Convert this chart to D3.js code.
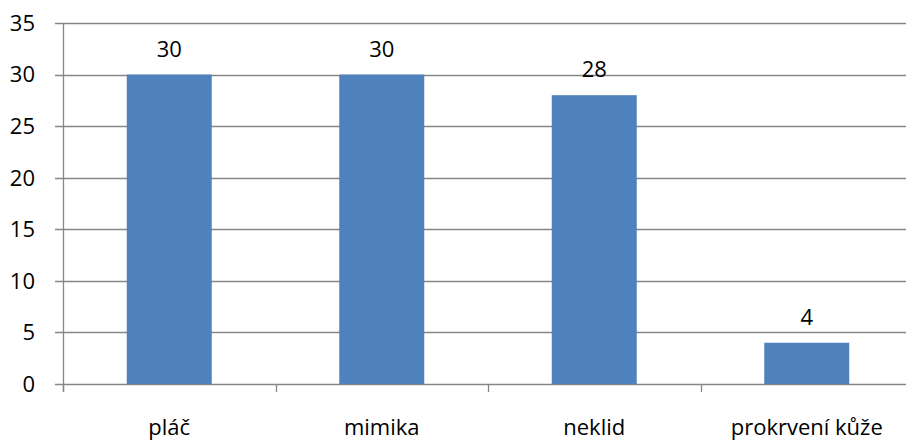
<!DOCTYPE html>
<html>
<head>
<meta charset="utf-8">
<script src="https://cdn.jsdelivr.net/npm/d3@7"></script>
<style>
  body { margin: 0; background: #fff; }
  svg { display: block; font-family: 'Open Sans', 'Noto Sans', sans-serif; }
</style>
</head>
<body>
<svg id="chart" width="906" height="442"></svg>
<script>
const categories = ['pláč', 'mimika', 'neklid', 'prokrvení kůže'];
const values = [30, 30, 28, 4];
const yTicks = [0, 5, 10, 15, 20, 25, 30, 35];

const width = 906;
const height = 442;
const margin = { top: 23, right: -7, bottom: 58, left: 63 };
const plotWidth = width - margin.left - margin.right;
const plotHeight = height - margin.top - margin.bottom;

const svg = d3.select('#chart');
const chart = svg.append('g').attr('transform', `translate(${margin.left},${margin.top})`);

const x = d3.scaleBand().domain(categories).range([0, plotWidth]).paddingInner(0.6).paddingOuter(0.3);
const y = d3.scaleLinear().domain([0, 35]).range([plotHeight, 0]);

const gridColor = '#868686';
const fontSize = 22;

// gridlines with left tick marks
chart.append('g')
  .selectAll('line')
  .data(yTicks)
  .join('line')
  .attr('x1', -8)
  .attr('x2', plotWidth)
  .attr('y1', (d) => Math.round(y(d)) + 0.5)
  .attr('y2', (d) => Math.round(y(d)) + 0.5)
  .attr('stroke', gridColor)
  .attr('stroke-width', 1.3);

// y axis labels
chart.append('g')
  .selectAll('text')
  .data(yTicks)
  .join('text')
  .attr('x', -28)
  .attr('y', (d) => y(d))
  .attr('dy', '0.36em')
  .attr('text-anchor', 'end')
  .attr('font-size', fontSize)
  .text((d) => d);

// y axis line
chart.append('line')
  .attr('x1', 0.5).attr('x2', 0.5)
  .attr('y1', 0).attr('y2', plotHeight + 8)
  .attr('stroke', gridColor)
  .attr('stroke-width', 1.3);

// category boundary ticks on x axis
const bounds = d3.range(categories.length + 1).map((i) => i * plotWidth / categories.length);
chart.append('g')
  .selectAll('line')
  .data(bounds)
  .join('line')
  .attr('x1', (d) => Math.round(d) + 0.5)
  .attr('x2', (d) => Math.round(d) + 0.5)
  .attr('y1', plotHeight)
  .attr('y2', plotHeight + 8)
  .attr('stroke', gridColor)
  .attr('stroke-width', 1.3);

// bars
chart.append('g')
  .selectAll('rect')
  .data(values)
  .join('rect')
  .attr('x', (d, i) => x(categories[i]))
  .attr('y', (d) => y(d))
  .attr('width', x.bandwidth())
  .attr('height', (d) => plotHeight - y(d))
  .attr('fill', '#4F81BD');

// value labels
chart.append('g')
  .selectAll('text')
  .data(values)
  .join('text')
  .attr('x', (d, i) => x(categories[i]) + x.bandwidth() / 2)
  .attr('y', (d) => y(d) - 18)
  .attr('text-anchor', 'middle')
  .attr('font-size', fontSize)
  .text((d) => d);

// category labels
chart.append('g')
  .selectAll('text')
  .data(categories)
  .join('text')
  .attr('x', (d) => x(d) + x.bandwidth() / 2)
  .attr('y', plotHeight + 51)
  .attr('text-anchor', 'middle')
  .attr('font-size', fontSize)
  .text((d) => d);
</script>
</body>
</html>
